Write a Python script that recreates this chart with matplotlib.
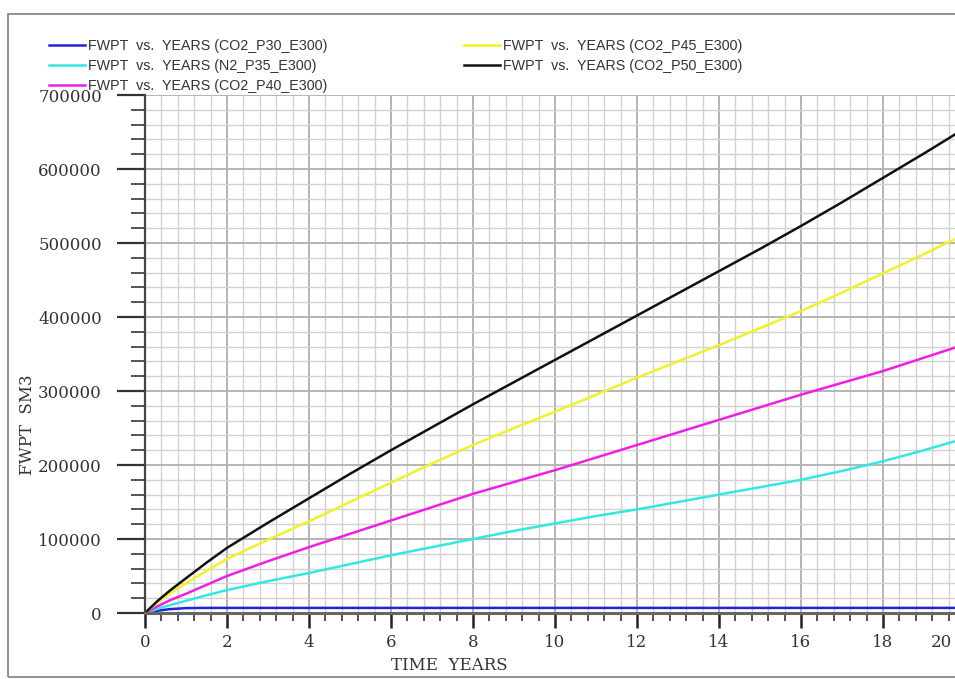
import numpy as np
import matplotlib
matplotlib.use("Agg")
import matplotlib.pyplot as plt
from matplotlib.ticker import MultipleLocator
from matplotlib.patches import Rectangle
from matplotlib.transforms import ScaledTranslation

# cumulative water production (FWPT, SM3) per case
years = [0, 0.3, 0.6, 1.0, 1.5, 2, 3, 4, 5, 6, 7, 8, 9, 10, 11, 12, 13, 14, 15, 16, 17, 18, 19, 20]
co2_p30 = [0, 3000, 5200, 6600, 6900, 6900, 6900, 6900, 6900, 6900, 6900, 6900, 6900, 6900,
           6900, 6900, 6900, 6900, 6900, 6900, 6900, 6900, 6900, 6900]
n2_p35 = [0, 5500, 10500, 16500, 24000, 31000, 43000, 54000, 66000, 78000, 89000, 100000, 111000,
          121000, 131000, 140000, 150000, 160000, 170000, 180000, 192000, 205000, 220000, 236000]
co2_p40 = [0, 9000, 17000, 26000, 38000, 50000, 70000, 89000, 107000, 125000, 143000, 161000,
           177000, 193000, 210000, 227000, 244000, 261000, 278000, 295000, 311000, 327000, 345000, 363000]
co2_p45 = [0, 14000, 26000, 40000, 57000, 73000, 99000, 124000, 150000, 176000, 202000, 227000,
           250000, 272000, 295000, 318000, 340000, 362000, 385000, 408000, 433000, 459000, 485000, 512000]
co2_p50 = [0, 16000, 30000, 47000, 68000, 88000, 122000, 155000, 188000, 220000, 251000, 282000,
           312000, 342000, 372000, 402000, 432000, 462000, 492000, 523000, 555000, 588000, 621000, 655000]

series = [co2_p30, n2_p35, co2_p40, co2_p45, co2_p50]
labels = ["FWPT  vs.  YEARS (CO2_P30_E300)",
          "FWPT  vs.  YEARS (N2_P35_E300)",
          "FWPT  vs.  YEARS (CO2_P40_E300)",
          "FWPT  vs.  YEARS (CO2_P45_E300)",
          "FWPT  vs.  YEARS (CO2_P50_E300)"]
colors = ["#2222dd", "#33e8e0", "#f01ee8", "#f2f02a", "#111111"]

W, H = 955, 679
fig = plt.figure(figsize=(W / 100, H / 100), dpi=100)
fig.patch.set_facecolor("white")

# outer frame
fig.patches.append(Rectangle((8 / W, 2 / H), 1.2, (677 - 14) / H, transform=fig.transFigure,
                             fill=False, edgecolor="#888888", linewidth=1.3))

ax = fig.add_axes([145 / W, (H - 613) / H, (965 - 145) / W, (613 - 95) / H])

for y, c, lab in zip(series, colors, labels):
    ax.plot(years, y, color=c, linewidth=1.8, label=lab)

ax.set_xlim(0, 20)
ax.set_ylim(0, 700000)
ax.xaxis.set_major_locator(MultipleLocator(2))
ax.xaxis.set_minor_locator(MultipleLocator(0.4))
ax.yaxis.set_major_locator(MultipleLocator(100000))
ax.yaxis.set_minor_locator(MultipleLocator(20000))
ax.grid(which="major", color="#b4b4b4", linewidth=1.4)
ax.grid(which="minor", color="#d2d2d2", linewidth=1.0)
ax.set_axisbelow(True)

for s in ("top", "right"):
    ax.spines[s].set_visible(False)
ax.spines["left"].set_color("#444444")
ax.spines["left"].set_linewidth(1.6)
ax.spines["bottom"].set_color("#666666")
ax.spines["bottom"].set_linewidth(2.2)

tick_font = dict(family="DejaVu Serif", size=12)
ax.tick_params(axis="y", which="major", length=20, width=1.6, color="#333333", pad=11,
               labelcolor="#333333")
ax.tick_params(axis="y", which="minor", length=10, width=1.3, color="#444444")
ax.tick_params(axis="x", which="major", length=11, width=1.8, color="#222222", pad=4,
               labelcolor="#333333")
ax.tick_params(axis="x", which="minor", length=6, width=1.3, color="#444444")
ax.set_yticks(np.arange(0, 700001, 100000))
ax.set_yticklabels([str(v) for v in range(0, 700001, 100000)], **tick_font)
ax.set_xticks(np.arange(0, 21, 2))
ax.set_xticklabels([str(v) for v in range(0, 21, 2)], **tick_font)

# last x label sits at the right border; pull it back inside
last = ax.get_xticklabels()[-1]
last.set_transform(last.get_transform() + ScaledTranslation(-24 / 100, 0, fig.dpi_scale_trans))

fig.text(449 / W, 1 - 665 / H, "TIME  YEARS", family="DejaVu Serif", size=12,
         color="#333333", ha="center", va="center")
fig.text(28 / W, 1 - 425 / H, "FWPT  SM3", family="DejaVu Serif", size=12,
         color="#333333", ha="center", va="center", rotation=90)

leg = fig.legend(loc="upper left", bbox_to_anchor=(42 / W, 1 - 32 / H), ncol=2,
                 frameon=False, prop=dict(family="Liberation Sans", size=10.3),
                 handlelength=2.5, handletextpad=0.25, labelspacing=0.42,
                 columnspacing=9.5, borderpad=0)
for t in leg.get_texts():
    t.set_color("#333333")

fig.savefig("out.png", dpi=100)
